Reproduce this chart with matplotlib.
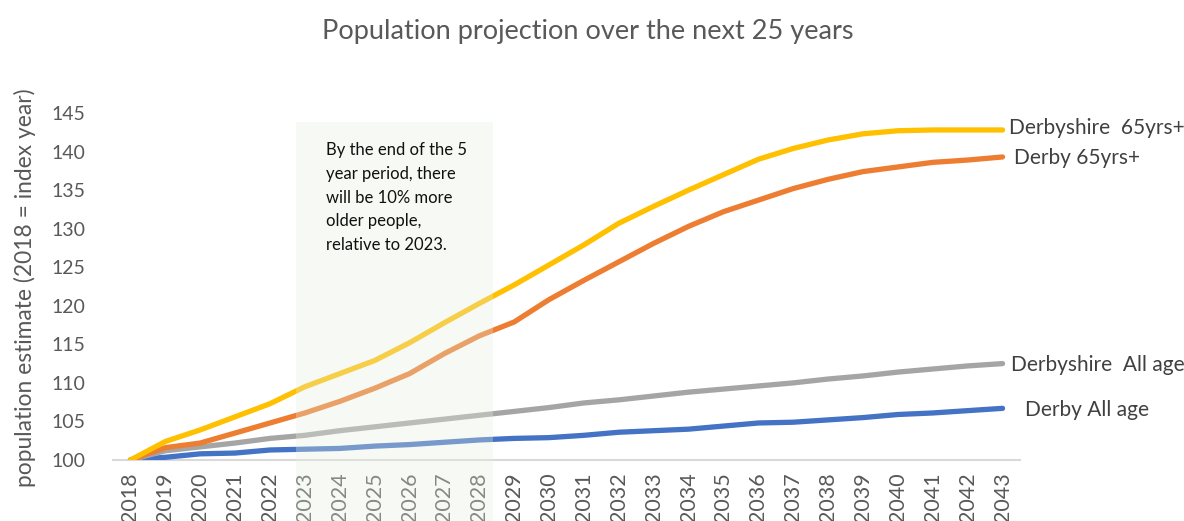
import matplotlib
matplotlib.use("Agg")
import matplotlib.pyplot as plt
from matplotlib.patches import Rectangle

years = list(range(2018, 2044))
derbyshire_65 = [100, 102.4, 103.9, 105.6, 107.3, 109.5, 111.2, 112.9, 115.2, 117.8, 120.3,
                 122.7, 125.3, 127.9, 130.7, 132.9, 135.0, 137.0, 139.0, 140.4, 141.5,
                 142.3, 142.7, 142.8, 142.8, 142.8]
derby_65 = [100, 101.6, 102.2, 103.5, 104.8, 106.1, 107.6, 109.3, 111.2, 113.8, 116.1,
            117.9, 120.8, 123.3, 125.7, 128.1, 130.3, 132.2, 133.7, 135.2, 136.4,
            137.4, 138.0, 138.6, 138.9, 139.3]
derbyshire_all = [100, 101.2, 101.7, 102.2, 102.8, 103.2, 103.8, 104.3, 104.8, 105.3, 105.8,
                  106.3, 106.8, 107.4, 107.8, 108.3, 108.8, 109.2, 109.6, 110.0, 110.5,
                  110.9, 111.4, 111.8, 112.2, 112.5]
derby_all = [100, 100.35, 100.8, 100.9, 101.3, 101.4, 101.5, 101.8, 102.0, 102.3, 102.6,
             102.8, 102.9, 103.2, 103.6, 103.8, 104.0, 104.4, 104.8, 104.9, 105.2,
             105.5, 105.9, 106.1, 106.4, 106.7]

series_names = ["Derbyshire  65yrs+", "Derby 65yrs+", "Derbyshire  All age", "Derby All age"]
series_values = [derbyshire_65, derby_65, derbyshire_all, derby_all]
colors = ["#FFC000", "#ED7D31", "#A5A5A5", "#4472C4"]
y_ticks = [100, 105, 110, 115, 120, 125, 130, 135, 140, 145]

title = "Population projection over the next 25 years"
ylabel = "population estimate (2018 = index year)"
note = "By the end of the 5\nyear period, there\nwill be 10% more\nolder people,\nrelative to 2023."

plt.rcParams['font.family'] = ['Lato', 'DejaVu Sans']

W, H = 1184, 521
fig = plt.figure(figsize=(W / 100, H / 100), dpi=100)
ax = fig.add_axes([113 / W, 1 - 460 / H, (1020 - 113) / W, (460 - 113) / H])

# draw in back-to-front order: blue, gray, orange, yellow
for name, vals, c in list(zip(series_names, series_values, colors))[::-1]:
    ax.plot(years, vals, color=c, lw=3.8, solid_capstyle='round', solid_joinstyle='round')

ax.set_xlim(2017.5, 2043.5)
ax.set_ylim(100, 145)
ax.set_xticks(years)
ax.set_xticklabels([str(y) for y in years], rotation=90, fontsize=15.5, color="#595959")
ax.set_yticks(y_ticks)
ax.set_yticklabels([str(v) for v in y_ticks], fontsize=14, color="#595959")
ax.tick_params(axis='both', length=0)
ax.tick_params(axis='y', pad=20)
ax.tick_params(axis='x', pad=9)
for s in ['top', 'right', 'left']:
    ax.spines[s].set_visible(False)
ax.spines['bottom'].set_color("#D9D9D9")
ax.spines['bottom'].set_linewidth(1.5)
ax.spines['bottom'].set_zorder(0)

# series labels at right end
label_offsets = [(4.5, 0.3), (8.5, -0.2), (6, -0.2), (16.5, -0.25)]
for name, vals, (dx, dy) in zip(series_names, series_values, label_offsets):
    ax.annotate(name, xy=(years[-1], vals[-1] + dy), xytext=(dx, 0), textcoords='offset points',
                ha='left', va='center', fontsize=15, color="#404040", annotation_clip=False)

fig.text(0.496, 1 - 32 / H, title, ha='center', va='center', fontsize=19.5, color="#595959")
fig.text(25 / W, 1 - 288 / H, ylabel, ha='center', va='center', rotation=90, fontsize=16.4,
         color="#595959")

# shaded highlight band over 2023-2028
rect = Rectangle((296 / W, 0), (493 - 296) / W, (H - 122) / H, transform=fig.transFigure,
                 facecolor=(230 / 255, 238 / 255, 222 / 255), alpha=0.32, edgecolor='none',
                 zorder=10)
fig.add_artist(rect)
fig.text(326 / W, 1 - 142 / H, note, ha='left', va='top', fontsize=12, color="#111111",
         linespacing=1.6, zorder=11)

fig.savefig("out.png", dpi=100)
